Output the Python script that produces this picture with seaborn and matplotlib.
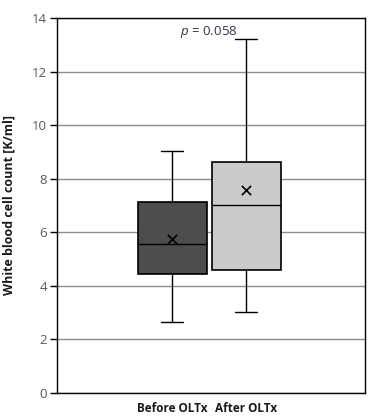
import numpy as np
import pandas as pd
import matplotlib
matplotlib.use("Agg")
import matplotlib.pyplot as plt
import seaborn as sns

# five-number summaries (min, q1, median, q3, max)
groups = ["Before OLTx", "After OLTx"]
before_summary = [2.64, 4.43, 5.55, 7.12, 9.02]
after_summary = [3.01, 4.59, 7.0, 8.61, 13.2]
means = [5.74, 7.57]
box_colors = ["#4d4d4d", "#cbcbcb"]
y_ticks = [0, 2, 4, 6, 8, 10, 12, 14]
p_text = "$\\it{p}$ = 0.058"

sns.set_style("white")
plt.rcParams["font.family"] = ["Open Sans", "DejaVu Sans"]
plt.rcParams["mathtext.fontset"] = "custom"
plt.rcParams["mathtext.it"] = "Open Sans:italic"
plt.rcParams["mathtext.rm"] = "Open Sans"

df = pd.DataFrame({
    "group": [groups[0]] * len(before_summary) + [groups[1]] * len(after_summary),
    "value": before_summary + after_summary,
})

fig = plt.figure(figsize=(3.8, 4.17), dpi=100)
ax = fig.add_axes([0.15, 0.0576, 0.8105, 0.8992])

line_kw = dict(color="black", linewidth=1)
sns.boxplot(data=df, x="group", y="value", hue="group", order=groups,
            palette=box_colors, legend=False, width=0.93, gap=0,
            whis=(0, 100), linewidth=1, linecolor="black",
            boxprops=dict(edgecolor="black", linewidth=1.2),
            whiskerprops=line_kw, capprops=line_kw, medianprops=line_kw,
            ax=ax, zorder=3)

# narrower whisker caps, as in the original
for ln in ax.lines:
    xd = np.asarray(ln.get_xdata(), dtype=float)
    if len(xd) == 2 and 0.3 < abs(xd[1] - xd[0]) < 0.6:
        mid = xd.mean()
        ln.set_xdata([mid - 0.145, mid + 0.145])

sns.scatterplot(x=groups, y=means, marker="x", color="black", s=45,
                linewidth=1.2, ax=ax, zorder=5)

ax.set_xlim(-1.55, 2.6)
ax.set_ylim(0, 14)
ax.set_yticks(y_ticks)
ax.yaxis.grid(True, color="#8c8c8c", linewidth=1)
ax.set_axisbelow(True)
for s in ax.spines.values():
    s.set_visible(True)
    s.set_color("black")
    s.set_linewidth(1)

ax.tick_params(axis="y", left=True, length=5, width=1, color="black",
               labelsize=9.5, labelcolor="#595959", pad=2)
ax.tick_params(axis="x", bottom=False, pad=3)
for lbl in ax.get_xticklabels():
    lbl.set_fontweight("bold")
    lbl.set_fontsize(8.5)
    lbl.set_color("#1a1a1a")

ax.set_xlabel("")
ax.set_ylabel("White blood cell count [K/ml]", fontsize=9, fontweight="bold",
              color="#1a1a1a", labelpad=12)

ax.text(0.5, 13.47, p_text, ha="center", va="center", fontsize=9.5,
        color="#333344")

fig.savefig("out.png", dpi=100)
